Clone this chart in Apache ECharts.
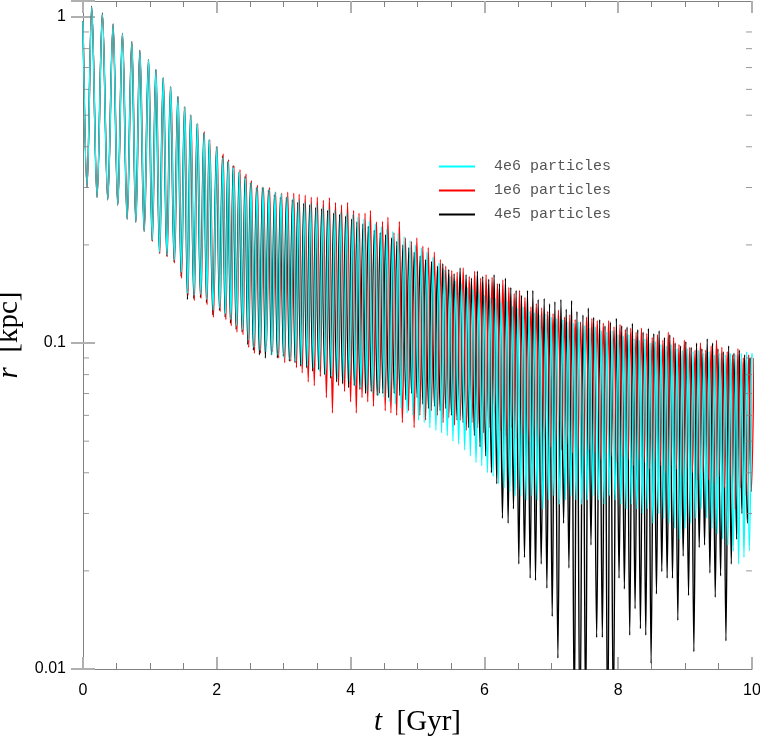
<!DOCTYPE html>
<html>
<head>
<meta charset="utf-8">
<script src="https://cdn.jsdelivr.net/npm/echarts@6/dist/echarts.min.js"></script>
<style>
  html, body { margin: 0; padding: 0; background: #fff; }
  #chart { width: 760px; height: 737px; }
</style>
</head>
<body>
<div id="chart"></div>
<script>
// peak times (Gyr), shared by the three runs
const peakT = [0.13, 0.29, 0.45, 0.59, 0.73, 0.85, 0.98, 1.09, 1.20, 1.31, 1.42, 1.52, 1.61, 1.71, 1.81, 1.89, 2.00, 2.09, 2.17, 2.25, 2.34, 2.43, 2.51, 2.60,
  2.69, 2.78, 2.87, 2.96, 3.05, 3.14, 3.22, 3.31, 3.40, 3.49, 3.58, 3.67, 3.76, 3.85, 3.94, 4.03,
  4.11, 4.20, 4.28, 4.37, 4.46, 4.54, 4.63, 4.71, 4.80, 4.89, 4.97, 5.06, 5.14, 5.23, 5.32, 5.40, 5.49, 5.57, 5.66, 5.75, 5.83, 5.92, 6.00,
  6.09, 6.17, 6.25, 6.34, 6.42, 6.50, 6.58, 6.67, 6.75, 6.83, 6.92, 7.00, 7.08, 7.17, 7.25, 7.33, 7.41, 7.50, 7.58, 7.66, 7.75, 7.83, 7.91, 8.00,
  8.08, 8.16, 8.24, 8.32, 8.40, 8.48, 8.56, 8.64, 8.72, 8.80, 8.88, 8.96, 9.04, 9.12, 9.20, 9.28, 9.36, 9.44, 9.52, 9.60, 9.68, 9.76, 9.84, 9.92, 10.00];
const firstLowT = 0.06;
const startR = 0.97;

// 4e6 particles
const cyanPeak = [1.07, 1.02, 0.95, 0.89, 0.84, 0.79, 0.74, 0.69, 0.65, 0.61, 0.57, 0.53, 0.50, 0.47, 0.44, 0.42, 0.40, 0.37, 0.36, 0.345, 0.335, 0.32, 0.31, 0.30,
  0.30, 0.296, 0.29, 0.287, 0.28, 0.278, 0.274, 0.27, 0.268, 0.265, 0.262, 0.258, 0.256, 0.252, 0.25, 0.248,
  0.243, 0.24, 0.236, 0.232, 0.227, 0.224, 0.22, 0.217, 0.212, 0.206, 0.2, 0.196, 0.19, 0.183, 0.176, 0.168, 0.16, 0.155, 0.152, 0.148, 0.146, 0.142, 0.14,
  0.138, 0.137, 0.133, 0.134, 0.13, 0.128, 0.129, 0.125, 0.124, 0.122, 0.123, 0.12, 0.119, 0.118, 0.116, 0.115, 0.116, 0.113, 0.111, 0.112, 0.109, 0.108, 0.109, 0.106,
  0.105, 0.106, 0.103, 0.102, 0.103, 0.1, 0.101, 0.099, 0.098, 0.099, 0.096, 0.095, 0.096, 0.094, 0.095, 0.093, 0.094, 0.092, 0.093, 0.092, 0.093, 0.092, 0.093, 0.094, 0.093];
const cyanLow = [0.30, 0.28, 0.275, 0.265, 0.24, 0.235, 0.22, 0.207, 0.19, 0.186, 0.18, 0.165, 0.142, 0.14, 0.141, 0.136, 0.126, 0.128, 0.123, 0.118, 0.113, 0.11, 0.102, 0.097,
  0.095, 0.094, 0.092, 0.092, 0.09, 0.089, 0.088, 0.086, 0.085, 0.084, 0.082, 0.08, 0.079, 0.078, 0.077, 0.076,
  0.074, 0.073, 0.071, 0.07, 0.069, 0.068, 0.066, 0.065, 0.063, 0.061, 0.06, 0.058, 0.057, 0.055, 0.054, 0.053, 0.052, 0.05, 0.049, 0.047, 0.045, 0.043, 0.042,
  0.04, 0.039, 0.037, 0.036, 0.035, 0.034, 0.034, 0.033, 0.034, 0.033, 0.031, 0.033, 0.034, 0.032, 0.033, 0.034, 0.033, 0.032, 0.033, 0.034, 0.033, 0.032, 0.034, 0.033,
  0.032, 0.031, 0.032, 0.031, 0.03, 0.031, 0.028, 0.03, 0.029, 0.028, 0.027, 0.025, 0.027, 0.028, 0.029, 0.031, 0.029, 0.027, 0.026, 0.025, 0.024, 0.023, 0.021, 0.022, 0.023];

// 1e6 particles
const redPeak = [1.06, 1.02, 0.95, 0.89, 0.84, 0.79, 0.74, 0.69, 0.65, 0.61, 0.57, 0.53, 0.50, 0.47, 0.445, 0.42, 0.40, 0.38, 0.365, 0.35, 0.34, 0.33, 0.315, 0.305,
  0.30, 0.30, 0.29, 0.288, 0.29, 0.288, 0.286, 0.284, 0.28, 0.28, 0.274, 0.279, 0.27, 0.265, 0.27, 0.255,
  0.25, 0.25, 0.255, 0.235, 0.236, 0.243, 0.218, 0.236, 0.21, 0.205, 0.21, 0.198, 0.196, 0.19, 0.18, 0.172, 0.167, 0.165, 0.17, 0.16, 0.166, 0.158, 0.162,
  0.159, 0.152, 0.156, 0.148, 0.142, 0.145, 0.138, 0.129, 0.132, 0.128, 0.125, 0.123, 0.126, 0.12, 0.122, 0.118, 0.116, 0.12, 0.119, 0.117, 0.115, 0.117, 0.112, 0.114,
  0.11, 0.111, 0.108, 0.111, 0.107, 0.104, 0.106, 0.102, 0.108, 0.104, 0.099, 0.102, 0.097, 0.095, 0.1, 0.095, 0.098, 0.102, 0.097, 0.094, 0.092, 0.096, 0.09, 0.092, 0.09];
const redLow = [0.30, 0.28, 0.275, 0.265, 0.24, 0.235, 0.22, 0.205, 0.188, 0.184, 0.176, 0.158, 0.14, 0.135, 0.137, 0.131, 0.12, 0.125, 0.118, 0.113, 0.108, 0.106, 0.097, 0.093,
  0.093, 0.098, 0.094, 0.09, 0.087, 0.088, 0.084, 0.081, 0.076, 0.074, 0.079, 0.068, 0.061, 0.074, 0.071, 0.066,
  0.061, 0.068, 0.066, 0.064, 0.07, 0.062, 0.061, 0.06, 0.057, 0.062, 0.055, 0.06, 0.058, 0.062, 0.06, 0.057, 0.059, 0.056, 0.058, 0.054, 0.057, 0.055, 0.053,
  0.055, 0.061, 0.054, 0.052, 0.055, 0.051, 0.053, 0.05, 0.052, 0.049, 0.051, 0.048, 0.05, 0.047, 0.049, 0.046, 0.048, 0.045, 0.047, 0.046, 0.044, 0.046, 0.045, 0.043,
  0.045, 0.044, 0.042, 0.044, 0.043, 0.041, 0.043, 0.042, 0.04, 0.042, 0.041, 0.039, 0.041, 0.04, 0.038, 0.04, 0.038, 0.037, 0.039, 0.036, 0.038, 0.031, 0.036, 0.034, 0.035];

// 4e5 particles
const blackPeak = [1.08, 1.03, 0.95, 0.89, 0.84, 0.79, 0.74, 0.69, 0.65, 0.61, 0.57, 0.53, 0.50, 0.47, 0.44, 0.42, 0.40, 0.375, 0.36, 0.35, 0.335, 0.325, 0.31, 0.30,
  0.30, 0.295, 0.285, 0.28, 0.28, 0.275, 0.27, 0.268, 0.265, 0.26, 0.258, 0.255, 0.25, 0.248, 0.245, 0.24,
  0.235, 0.232, 0.228, 0.222, 0.218, 0.215, 0.21, 0.205, 0.2, 0.196, 0.19, 0.185, 0.18, 0.178, 0.172, 0.175, 0.168, 0.163, 0.17, 0.162, 0.158, 0.166, 0.16,
  0.157, 0.162, 0.152, 0.158, 0.148, 0.145, 0.14, 0.145, 0.145, 0.136, 0.137, 0.132, 0.134, 0.136, 0.127, 0.135, 0.125, 0.122, 0.128, 0.12, 0.118, 0.113, 0.116, 0.119,
  0.113, 0.112, 0.115, 0.11, 0.108, 0.111, 0.107, 0.109, 0.104, 0.106, 0.1, 0.098, 0.101, 0.097, 0.1, 0.096, 0.103, 0.1, 0.096, 0.094, 0.098, 0.093, 0.095, 0.092, 0.09];
const blackLow = [0.30, 0.28, 0.275, 0.265, 0.24, 0.235, 0.22, 0.206, 0.189, 0.185, 0.177, 0.16, 0.136, 0.137, 0.138, 0.133, 0.122, 0.126, 0.12, 0.115, 0.11, 0.108, 0.099, 0.095,
  0.092, 0.09, 0.092, 0.09, 0.091, 0.088, 0.087, 0.085, 0.084, 0.082, 0.083, 0.08, 0.078, 0.076, 0.075, 0.073,
  0.074, 0.072, 0.07, 0.071, 0.069, 0.07, 0.068, 0.07, 0.069, 0.067, 0.07, 0.068, 0.065, 0.063, 0.064, 0.062, 0.063, 0.06, 0.058,
  0.057, 0.055, 0.052, 0.048, 0.045, 0.04, 0.037,
  0.029, 0.028, 0.031, 0.021, 0.022, 0.019, 0.0187, 0.021, 0.0177, 0.0145, 0.0108, 0.028, 0.0204, 0.007, 0.006, 0.007, 0.024, 0.0125, 0.0125, 0.006, 0.007, 0.019, 0.0176,
  0.0127, 0.0153, 0.0133, 0.0127, 0.0104, 0.017, 0.0199, 0.019, 0.019, 0.0141, 0.0222, 0.0168, 0.0113, 0.0236, 0.024, 0.0197, 0.0166, 0.0193, 0.0122, 0.021, 0.025, 0.03, 0.028];

// phase drift of the two lower-resolution runs against the 4e6 run (Gyr)
const lagT = [0, 2, 4, 6, 10];
const redLag = [0, 0.005, 0.015, 0.025, 0.03];
const blackLag = [0, -0.005, -0.015, -0.025, -0.03];

// minor tick values on the log axis
const minorR = [0.02, 0.03, 0.04, 0.05, 0.06, 0.07, 0.08, 0.09, 0.2, 0.3, 0.4, 0.5, 0.6, 0.7, 0.8, 0.9];

const names = ["4e6 particles", "1e6 particles", "4e5 particles"];

function lagAt(lag, t) {
  for (let i = 1; i < lagT.length; i++) {
    if (t <= lagT[i]) {
      const f = (t - lagT[i - 1]) / (lagT[i] - lagT[i - 1]);
      return lag[i - 1] + f * (lag[i] - lag[i - 1]);
    }
  }
  return lag[lag.length - 1];
}

function build(peaks, lows, lag) {
  const pts = [[0, startR]];
  const n = Math.min(peakT.length, peaks.length, lows.length);
  for (let i = 0; i < n; i++) {
    const tl = i === 0 ? firstLowT : (peakT[i - 1] + peakT[i]) / 2;
    pts.push([tl + (lag ? lagAt(lag, tl) : 0), lows[i]]);
    pts.push([peakT[i] + (lag ? lagAt(lag, peakT[i]) : 0), peaks[i]]);
  }
  return pts;
}

const chart = echarts.init(document.getElementById("chart"), null, { renderer: "canvas" });

const axisGray = "#808080";
const yMin = 0.01, yMax = 1.12;

const isDecade = (v) => Math.abs(Math.log10(v) - Math.round(Math.log10(v))) < 1e-6;

const lineSeries = (name, color, data) => ({
  name,
  type: "line",
  data,
  showSymbol: false,
  symbol: "none",
  smooth: 0.35,
  smoothMonotone: "x",
  clip: true,
  animation: false,
  lineStyle: { color, width: 1.4 },
  itemStyle: { color },
});

const tickSeries = (xVal, offset, yIdx) => ({
  type: "scatter",
  data: minorR.map((v) => [xVal, v]),
  yAxisIndex: yIdx,
  symbol: "rect",
  symbolSize: [6, 1],
  symbolOffset: [offset, 0],
  itemStyle: { color: axisGray },
  silent: true,
  clip: false,
  animation: false,
  z: 5,
});

const option = {
  animation: false,
  backgroundColor: "#fff",
  grid: { left: 83, right: 8, top: 1, bottom: 68, containLabel: false, outerBoundsMode: "none" },
  legend: {
    data: names,
    orient: "vertical",
    left: 434,
    top: 154,
    itemWidth: 36,
    itemHeight: 2,
    itemGap: 9,
    icon: "rect",
    textStyle: {
      fontFamily: "Liberation Mono",
      fontSize: 15,
      color: "#555",
      padding: [0, 0, 0, 14],
    },
  },
  xAxis: [
    {
      type: "value",
      min: 0,
      max: 10,
      interval: 2,
      position: "bottom",
      name: "{it|t}  [Gyr]",
      nameLocation: "middle",
      nameGap: 39,
      nameTextStyle: {
        fontFamily: "Liberation Serif",
        fontSize: 29,
        color: "#000",
        rich: { it: { fontFamily: "Liberation Serif", fontStyle: "italic", fontSize: 29, color: "#000" } },
      },
      axisLine: { lineStyle: { color: axisGray, width: 1 } },
      axisTick: { inside: true, length: 12, lineStyle: { color: "#b0b0b0", width: 2 } },
      minorTick: { show: true, splitNumber: 4, length: 6, lineStyle: { color: axisGray, width: 1 } },
      axisLabel: { margin: 14, fontFamily: "Liberation Sans", fontSize: 16, color: "#000" },
      splitLine: { show: false },
    },
    {
      type: "value",
      min: 0,
      max: 10,
      interval: 2,
      position: "top",
      axisLine: { lineStyle: { color: axisGray, width: 1 } },
      axisTick: { inside: true, length: 12, lineStyle: { color: "#b0b0b0", width: 2 } },
      minorTick: { show: true, splitNumber: 4, length: 6, lineStyle: { color: axisGray, width: 1 } },
      axisLabel: { show: false },
      splitLine: { show: false },
    },
  ],
  yAxis: [
    {
      type: "log",
      min: yMin,
      max: yMax,
      position: "left",
      name: "{it|r}  [kpc]",
      nameLocation: "middle",
      nameGap: 53,
      nameTextStyle: {
        fontFamily: "Liberation Serif",
        fontSize: 29,
        color: "#000",
        rich: { it: { fontFamily: "Liberation Serif", fontStyle: "italic", fontSize: 29, color: "#000" } },
      },
      axisLine: { lineStyle: { color: axisGray, width: 1 } },
      axisTick: { inside: true, length: 12, lineStyle: { color: "#b0b0b0", width: 2 } },
      axisLabel: {
        margin: 17,
        fontFamily: "Liberation Sans",
        fontSize: 16,
        color: "#000",
        formatter: (v) => (isDecade(v) ? String(+v.toPrecision(3)) : ""),
      },
      splitLine: { show: false },
    },
    {
      type: "log",
      min: yMin,
      max: yMax,
      position: "right",
      axisLine: { lineStyle: { color: axisGray, width: 1 } },
      axisTick: { inside: true, length: 12, lineStyle: { color: "#b0b0b0", width: 2 } },
      axisLabel: { show: false },
      splitLine: { show: false },
    },
  ],
  series: [
    lineSeries(names[2], "#000000", build(blackPeak, blackLow, blackLag)),
    lineSeries(names[1], "#ff0000", build(redPeak, redLow, redLag)),
    lineSeries(names[0], "#00ffff", build(cyanPeak, cyanLow, null)),
    tickSeries(0, 3, 0),
    tickSeries(10, -3, 0),
  ],
};

chart.setOption(option);
</script>
</body>
</html>
